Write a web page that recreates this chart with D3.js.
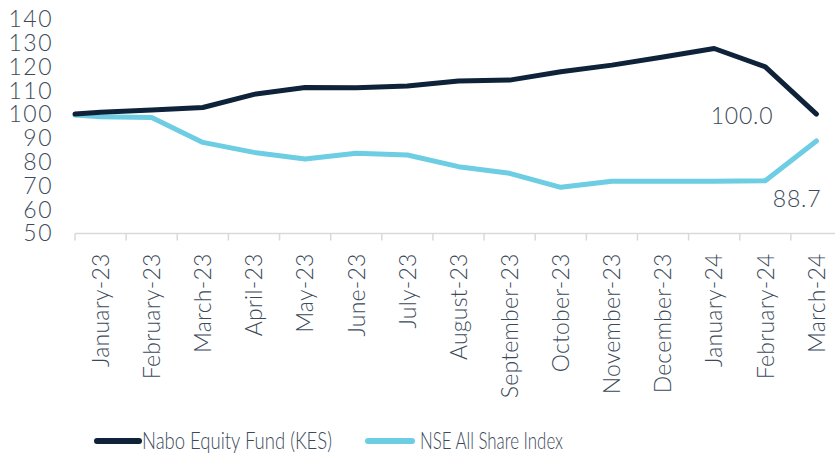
<!DOCTYPE html>
<html><head><meta charset="utf-8">
<script src="https://cdn.jsdelivr.net/npm/d3@7"></script>
<style>
body{margin:0;background:#fff;}
text{font-family:Lato,"Open Sans",sans-serif;font-weight:300;fill:#3b4a5a;}
</style></head>
<body><svg id="c" width="835" height="454"></svg>
<script>
const months = ["January-23","February-23","March-23","April-23","May-23","June-23","July-23","August-23","September-23","October-23","November-23","December-23","January-24","February-24","March-24"];
// first value = base point at the left edge of the axis, then one per month
const fundValues = [100, 100.8, 101.7, 102.8, 108.3, 111.2, 111.1, 111.8, 113.9, 114.3, 117.8, 120.6, 124.0, 127.6, 119.9, 100.0];
const indexValues = [99.6, 98.9, 98.6, 88.1, 83.9, 81.1, 83.5, 82.8, 77.9, 75.1, 69.2, 71.8, 71.8, 71.8, 72.0, 88.7];
const yTicks = [50,60,70,80,90,100,110,120,130,140];
const seriesNames = ["Nabo Equity Fund (KES)", "NSE All Share Index"];
const colors = ["#0e2339", "#6ccde3"];

const svg = d3.select("#c");
const x = d3.scaleLinear().domain([0, months.length]).range([75, 842]);
const y = d3.scaleLinear().domain([50, 140]).range([233, 19]);
const pos = i => i === 0 ? x(0) : x(i - 0.5);

// y tick labels
svg.append("g").selectAll("text").data(yTicks).join("text")
  .attr("x", 53).attr("y", d => y(d)).attr("dy", "0.36em")
  .attr("text-anchor", "end").style("font-size", "23px").style("letter-spacing", "1.5px").text(d => d);

// x axis
const ax = svg.append("g").attr("transform", "translate(0,233.5)");
ax.append("line").attr("x1", x(0)).attr("x2", x(months.length)).attr("stroke", "#d9d9d9").attr("stroke-width", 1.5);
ax.selectAll("line.t").data(d3.range(months.length + 1)).join("line").attr("class","t")
  .attr("x1", d => x(d)).attr("x2", d => x(d)).attr("y1", 0).attr("y2", 7)
  .attr("stroke", "#d9d9d9").attr("stroke-width", 1.5);
ax.selectAll("text").data(months).join("text")
  .attr("transform", (d, i) => `translate(${x(i + 0.5)},20) rotate(-90)`)
  .attr("text-anchor", "end").attr("dy", "0.36em").style("font-size", "23px").style("letter-spacing", "0.2px").text(d => d);

// lines
const line = d3.line().x((d, i) => pos(i)).y(d => y(d));
[indexValues, fundValues].forEach((vals, k) => {
  svg.append("path").datum(vals).attr("d", line).attr("fill", "none")
    .attr("stroke", colors[1 - k]).attr("stroke-width", 5).attr("stroke-linejoin", "round").attr("stroke-linecap", "round");
});

// end labels
const n = fundValues.length - 1;
svg.append("text").attr("x", pos(n) - 43).attr("y", y(fundValues[n]) + 10)
  .attr("text-anchor", "end").style("font-size", "23px").style("letter-spacing", "0.8px").text(fundValues[n].toFixed(1));
svg.append("text").attr("x", pos(n) + 5).attr("y", y(indexValues[n]) + 66)
  .attr("text-anchor", "end").style("font-size", "23px").style("letter-spacing", "0.8px").text(indexValues[n].toFixed(1));

// legend
const lg = svg.append("g").attr("transform", "translate(0,441)");
const lx = [[97, 139, 142, 190], [368, 412, 420, 143]];
seriesNames.forEach((s, k) => {
  lg.append("line").attr("x1", lx[k][0]).attr("x2", lx[k][1]).attr("stroke", colors[k]).attr("stroke-width", 6).attr("stroke-linecap", "round");
  lg.append("text").attr("x", lx[k][2]).attr("dy", "0.36em").style("font-size", "23px")
    .attr("textLength", lx[k][3]).attr("lengthAdjust", "spacingAndGlyphs").text(s);
});
</script></body></html>
